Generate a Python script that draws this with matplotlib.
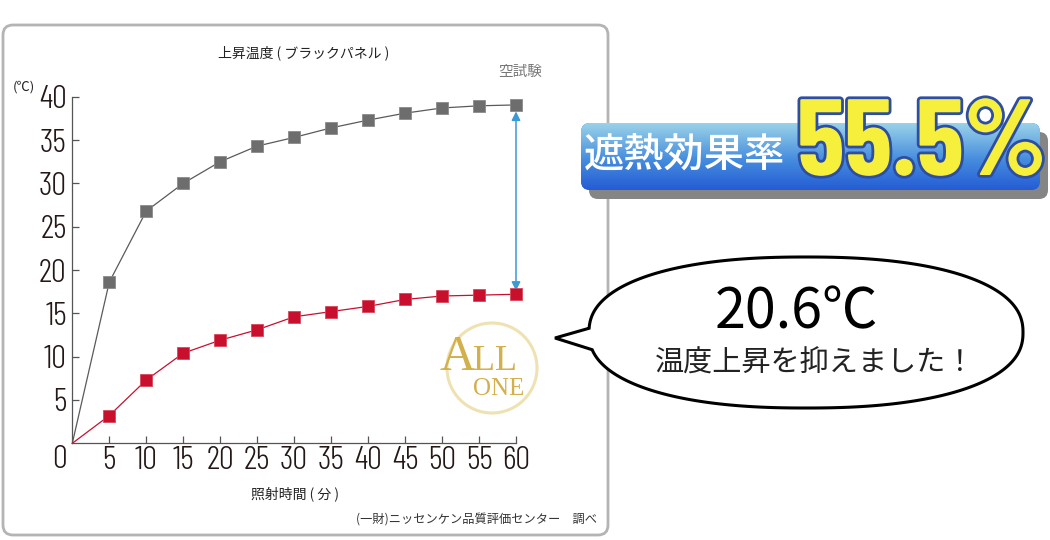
import numpy as np
import matplotlib
matplotlib.use("Agg")
import matplotlib.pyplot as plt
from matplotlib.patches import FancyBboxPatch, Ellipse, PathPatch
from matplotlib.path import Path
import matplotlib.patheffects as pe

plt.rcParams['font.family'] = ['Noto Sans CJK JP', 'DejaVu Sans']

# ---- data ----
minutes = [0, 5, 10, 15, 20, 25, 30, 35, 40, 45, 50, 55, 60]
blank_test = [0, 18.6, 26.8, 30.0, 32.5, 34.3, 35.3, 36.4, 37.3, 38.1, 38.7, 38.95, 39.05]
all_one = [0, 3.2, 7.3, 10.4, 11.9, 13.1, 14.6, 15.2, 15.8, 16.6, 17.0, 17.1, 17.2]
x_ticks = [5, 10, 15, 20, 25, 30, 35, 40, 45, 50, 55, 60]
y_ticks = [5, 10, 15, 20, 25, 30, 35, 40]

title = "上昇温度 ( ブラックパネル )"
unit_label = "(℃)"
series_label = "空試験"
x_label = "照射時間 ( 分 )"
source = "(一財)ニッセンケン品質評価センター　調べ"
badge_label = "遮熱効果率"
badge_value = "55.5%"
bubble_value = "20.6℃"
bubble_text = "温度上昇を抑えました！"

W, H = 1050, 540
fig = plt.figure(figsize=(10.5, 5.4), dpi=100)
fig.patch.set_facecolor('white')

ov = fig.add_axes([0, 0, 1, 1], zorder=0)
ov.set_xlim(0, W)
ov.set_ylim(H, 0)
ov.axis('off')

panel = FancyBboxPatch((3, 25), 605, 510, boxstyle="round,pad=0,rounding_size=10",
                       fc='white', ec='#b4b4b4', lw=2.0)
ov.add_patch(panel)

narrow = ['Barlow Condensed', 'Liberation Sans Narrow', 'DejaVu Sans']

left, right, top, bottom = 72.3, 516, 96.7, 443.3
ax = fig.add_axes([left / W, 1 - bottom / H, (right - left) / W, (bottom - top) / H], zorder=2)
ax.patch.set_alpha(0)
ax.set_xlim(0, 60)
ax.set_ylim(0, 40)
for s in ['top', 'right']:
    ax.spines[s].set_visible(False)
for s in ['left', 'bottom']:
    ax.spines[s].set_color('#555555')
    ax.spines[s].set_linewidth(0.9)
ax.set_xticks(x_ticks)
ax.set_yticks(y_ticks)
ax.tick_params(direction='in', length=5, width=0.9, color='#555555',
               labelsize=24, labelcolor='#231815')
ax.tick_params(axis='x', pad=2)
ax.tick_params(axis='y', pad=4)
for lab in ax.get_xticklabels() + ax.get_yticklabels():
    lab.set_family(narrow)
    lab.set_weight(300)

ax.plot(minutes, blank_test, color='#5a5a5a', lw=0.9, marker='s', ms=8,
        mfc='#6d6d6d', mec='#8a8a8a', mew=0.6, markevery=range(1, len(minutes)),
        clip_on=False, zorder=3)
ax.plot(minutes, all_one, color='#c8102e', lw=0.9, marker='s', ms=8,
        mfc='#c8102e', mec='#d8485a', mew=0.6, markevery=range(1, len(minutes)),
        clip_on=False, zorder=3)

ax.annotate('', xy=(minutes[-1], blank_test[-1] - 0.75), xytext=(minutes[-1], all_one[-1] + 0.4),
            arrowprops=dict(arrowstyle='<|-|>', color='#3a9ad4', lw=1.1,
                            mutation_scale=13, shrinkA=0, shrinkB=0), zorder=2)

ov.text(59, 460, "0", fontsize=24, family=narrow, weight=300, color='#231815',
        ha='center', va='center')

ov.text(304, 53, title, fontsize=10, color='#222222', ha='center', va='center')
ov.text(24, 87, unit_label, fontsize=9.5, color='#222222', ha='center', va='center')
ov.text(520, 72, series_label, fontsize=10.5, color='#777777', ha='center', va='center')
ov.text(295, 494, x_label, fontsize=10, color='#222222', ha='center', va='center')
ov.text(597, 519, source, fontsize=8.8, color='#333333', ha='right', va='center')

# ALL ONE logo
ov.add_patch(Ellipse((492, 368), 90, 90, fc='none', ec='#efe2b2', lw=2.2))
serif = ['Liberation Serif', 'DejaVu Serif']
ov.text(440, 370, "A", family=serif, fontsize=36, color='#d2b04c', ha='left', va='baseline')
ov.text(473, 370, "LL", family=serif, fontsize=26, color='#d2b04c', ha='left', va='baseline')
ov.text(499, 395, "ONE", family=serif, fontsize=18, color='#d2b04c', ha='center', va='baseline')

# badge
shadow = FancyBboxPatch((589, 132), 459, 67, boxstyle="round,pad=0,rounding_size=9",
                        fc='#858585', ec='none')
ov.add_patch(shadow)
box = FancyBboxPatch((581, 123), 459, 67, boxstyle="round,pad=0,rounding_size=9",
                     fc='#3a80dc', ec='none')
ov.add_patch(box)
c_top = np.array([0x9a, 0xd2, 0xe8]) / 255
c_mid = np.array([0x45, 0x8c, 0xde]) / 255
c_bot = np.array([0x25, 0x5c, 0xd4]) / 255
n = 100
grad = np.zeros((n, 1, 3))
for i in range(n):
    f = i / (n - 1)
    if f < 0.55:
        g = f / 0.55
        grad[i, 0] = c_top * (1 - g) + c_mid * g
    else:
        g = (f - 0.55) / 0.45
        grad[i, 0] = c_mid * (1 - g) + c_bot * g
im = ov.imshow(grad, extent=[581, 1040, 190, 123], origin='upper', aspect='auto',
               interpolation='bilinear', zorder=1)
im.set_clip_path(box)
ov.set_xlim(0, W)
ov.set_ylim(H, 0)

ov.text(684, 155, badge_label, fontsize=29, color='white', weight='medium',
        ha='center', va='center', zorder=3)
ov.text(922, 175, badge_value, family=narrow, fontsize=78, weight='bold',
        color='#f6ef3c', ha='center', va='baseline', zorder=3,
        path_effects=[pe.withStroke(linewidth=4, foreground='#2d4ea2')])

# speech bubble
cx, cy, a, b, ne = 806, 332.5, 217, 75.5, 2.3
t = np.linspace(0, 2 * np.pi, 600)
xs = cx + a * np.sign(np.cos(t)) * np.abs(np.cos(t)) ** (2 / ne)
ys = cy + b * np.sign(np.sin(t)) * np.abs(np.sin(t)) ** (2 / ne)
mask = (xs < cx) & (ys > 329) & (ys < 349)
idx = np.where(mask)[0]
pts = list(zip(xs[:idx[0]], ys[:idx[0]])) + [(555, 338)] + list(zip(xs[idx[-1] + 1:], ys[idx[-1] + 1:]))
pts.append(pts[0])
bubble = PathPatch(Path(pts), fc='white', ec='black', lw=2.2, zorder=2)
ov.add_patch(bubble)
ov.text(796, 328, bubble_value, fontsize=40, color='black', ha='center', va='baseline', zorder=3)
ov.text(815, 364, bubble_text, fontsize=21, color='#222222', ha='center', va='center', zorder=3)

fig.savefig('out.png', dpi=100, facecolor='white')
